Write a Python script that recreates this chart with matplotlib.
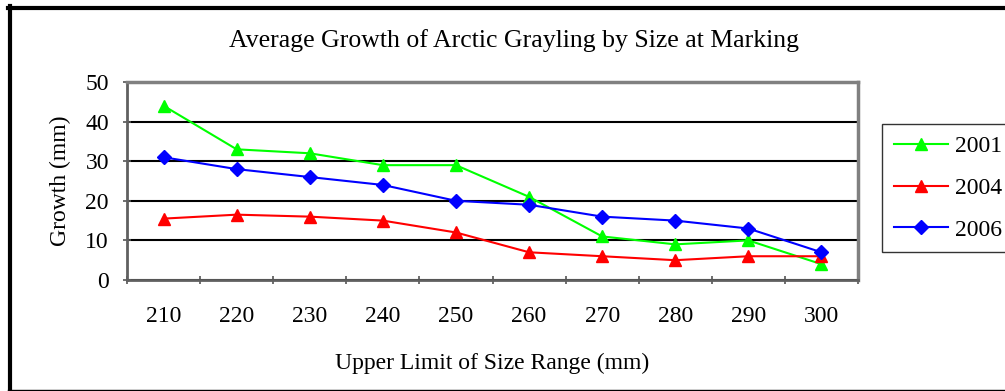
import matplotlib.pyplot as plt
import numpy as np

sizes = ["210", "220", "230", "240", "250", "260", "270", "280", "290", "300"]
growth_2001 = [44, 33, 32, 29, 29, 21, 11, 9, 10, 4]
growth_2004 = [15.5, 16.5, 16, 15, 12, 7, 6, 5, 6, 6]
growth_2006 = [31, 28, 26, 24, 20, 19, 16, 15, 13, 7]

plt.rcParams['font.family'] = ['Liberation Serif', 'DejaVu Serif']

fig = plt.figure(figsize=(10.05, 3.91), dpi=100)
ax = fig.add_axes([127 / 1005, 1 - 280 / 391, 731 / 1005, 198 / 391])

x = np.arange(len(sizes))
ax.plot(x, growth_2001, color="#00ff00", marker="^", markersize=9, lw=1.5, label="2001")
ax.plot(x, growth_2004, color="#ff0000", marker="^", markersize=9, lw=1.5, label="2004")
ax.plot(x, growth_2006, color="#0000ff", marker="D", markersize=7, lw=1.5, label="2006")

ax.set_xlim(-0.5, len(sizes) - 0.5)
ax.set_ylim(0, 50)
ax.set_yticks(range(0, 51, 10))
ax.set_xticks(x)
ax.set_xticklabels(sizes, fontsize=17)
ax.set_xticks(np.arange(-0.5, len(sizes)), minor=True)
ax.tick_params(axis="x", which="major", length=0, pad=19)
ax.tick_params(axis="x", which="minor", length=6, width=1.2, direction="inout", color="#555555")
ax.tick_params(axis="y", labelsize=17, length=6, width=1.2, direction="inout", color="#555555", pad=10)
ax.yaxis.grid(True, color="black", lw=1.5)
ax.set_axisbelow(True)

for side in ["top", "right"]:
    ax.spines[side].set_color("#808080")
    ax.spines[side].set_linewidth(2.5)
for side in ["left", "bottom"]:
    ax.spines[side].set_color("#606060")
    ax.spines[side].set_linewidth(2)

ax.set_ylabel("Growth (mm)", fontsize=17, labelpad=10)
ax.set_xlabel("Upper Limit of Size Range (mm)", fontsize=17, labelpad=18)
fig.text(514 / 1005, 1 - 41 / 391, "Average Growth of Arctic Grayling by Size at Marking",
         fontsize=18.5, ha="center", va="center")

leg = ax.legend(loc="upper left", bbox_to_anchor=(882 / 1005, 1 - 124 / 391),
                bbox_transform=fig.transFigure, borderaxespad=0, fontsize=17,
                frameon=True, fancybox=False, edgecolor="black", handlelength=2.3,
                handletextpad=0.3, labelspacing=0.85, borderpad=0.5)
leg.get_frame().set_linewidth(1)

# outer chart border: thick on left and top, thin at the bottom
W, H = 1005, 391
fig.add_artist(plt.Line2D([10 / W, 10 / W], [0, 1 - 6 / H], color="black", lw=3,
                          transform=fig.transFigure))
fig.add_artist(plt.Line2D([8 / W, 1], [1 - 8 / H, 1 - 8 / H], color="black", lw=3,
                          transform=fig.transFigure))
fig.add_artist(plt.Line2D([8 / W, 1], [1.5 / H, 1.5 / H], color="black", lw=1,
                          transform=fig.transFigure))

fig.savefig("out.png", dpi=100)
